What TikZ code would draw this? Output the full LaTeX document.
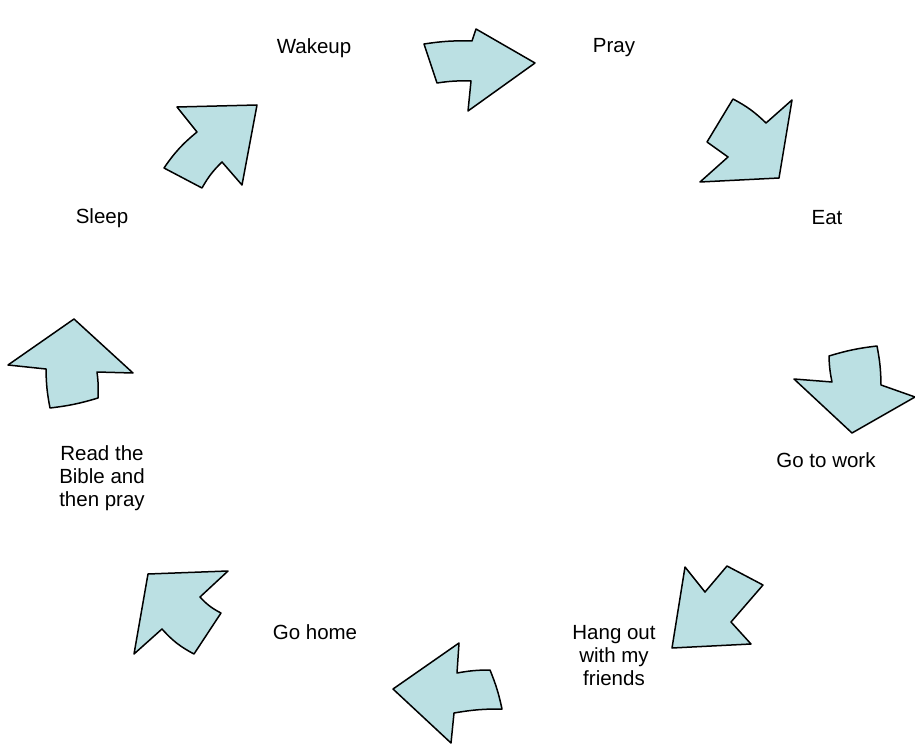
\documentclass[tikz,border=0pt]{standalone}
\usepackage{fontspec}
\setmainfont{Liberation Sans}
\usepackage{tikz}

\definecolor{arrowfill}{RGB}{187,224,227}

\begin{document}
\begin{tikzpicture}[x=1pt, y=-1pt,
    blockarrow/.style={draw=black, fill=arrowfill, line width=1.5pt, line join=round},
    lbl/.style={align=center, font=\fontsize{20.5}{23}\selectfont, inner sep=0pt}]
    \useasboundingbox (0, 0) rectangle (915, 746);
    % steps of the day
    \node[lbl] (wake) at (314, 48) {Wakeup};
    \node[lbl] (pray) at (614, 48) {Pray};
    \node[lbl] (eat) at (827, 218) {Eat};
    \node[lbl] (work) at (826, 460) {Go to work};
    \node[lbl] (hang) at (614, 656) {Hang out\\with my\\friends};
    \node[lbl] (home) at (315, 632) {Go home};
    \node[lbl] (bible) at (102, 478) {Read the\\Bible and\\then pray};
    \node[lbl] (sleep) at (102, 218) {Sleep};
    % arrows between them
    \draw[blockarrow] (424, 44) to[bend left=5] (472, 41) -- (476, 29) -- (535, 63) -- (468, 111)
        -- (471, 81) to[bend right=5] (437, 83) -- cycle;
    \draw[blockarrow] (733, 99) to[bend left=8] (766, 123) -- (792, 100) -- (779, 178) -- (700, 182)
        -- (728, 157) -- (707, 142) -- cycle;
    \draw[blockarrow] (829, 356) to[bend left=5] (877, 346) to[bend left=5] (881, 385) -- (915, 397)
        -- (852, 433) -- (794, 379) -- (832, 382) to[bend left=5] cycle;
    \draw[blockarrow] (685, 567) -- (705, 592) -- (727, 566) -- (763, 585) -- (731, 622)
        -- (751, 644) -- (672, 648) -- cycle;
    \draw[blockarrow] (393, 689) -- (459, 643) -- (457, 673) to[bend left=5] (490, 670)
        to[bend left=5] (502, 709) to[bend right=5] (454, 713) -- (451, 743) -- cycle;
    \draw[blockarrow] (148, 574) -- (228, 571) -- (200, 597) to[bend right=10] (221, 613)
        -- (194, 654) to[bend left=10] (162, 629) -- (134, 654) -- cycle;
    \draw[blockarrow] (74, 319) -- (133, 373) -- (97, 372) to[bend left=5] (98, 398)
        to[bend left=5] (50, 408) to[bend left=5] (46, 369) -- (8, 365) -- cycle;
    \draw[blockarrow] (257, 105) -- (242, 185) -- (222, 162) to[bend right=8] (202, 188)
        -- (164, 168) to[bend left=8] (197, 132) -- (177, 107) -- cycle;
\end{tikzpicture}
\end{document}
